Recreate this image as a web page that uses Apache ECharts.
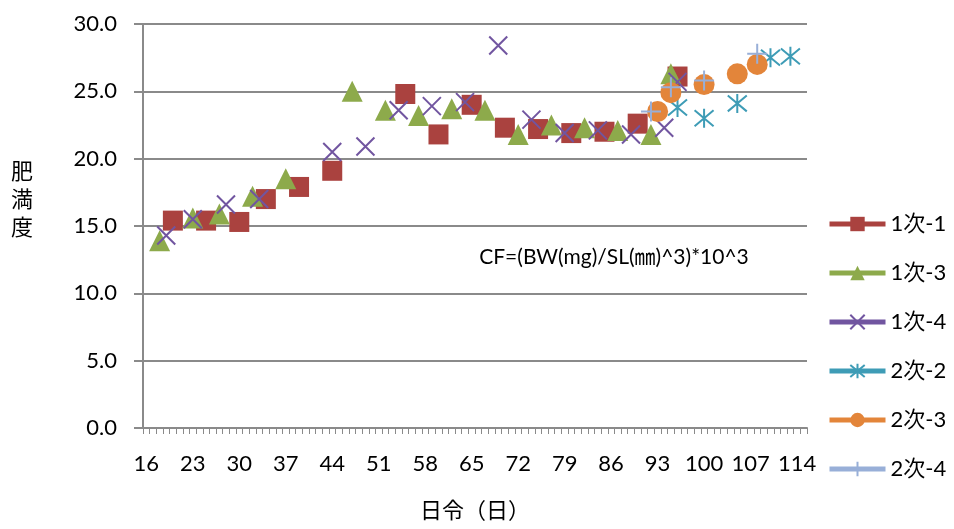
<!DOCTYPE html>
<html>
<head>
<meta charset="utf-8">
<script src="https://cdn.jsdelivr.net/npm/echarts@6/dist/echarts.min.js"></script>
<style>
  html, body { margin: 0; padding: 0; background: #fff; }
  #chart { width: 954px; height: 529px; }
</style>
</head>
<body>
<div id="chart"></div>
<script>
// 日令 16..115
var days = [];
for (var d = 16; d <= 115; d++) days.push(String(d));

// [日令, 肥満度]
var s1_1 = [[20,15.4],[25,15.4],[30,15.3],[34,17.0],[39,17.9],[44,19.1],[55,24.8],[60,21.8],
            [65,24.0],[70,22.3],[75,22.2],[80,21.9],[85,22.0],[90,22.6],[96,26.1]];
var s1_3 = [[18,13.9],[23,15.6],[27,15.9],[32,17.2],[37,18.5],[47,25.0],[52,23.6],[57,23.2],
            [62,23.7],[67,23.6],[72,21.8],[77,22.5],[82,22.3],[87,22.1],[92,21.8],[95,26.3]];
var s1_4 = [[19,14.3],[23,15.5],[28,16.6],[33,17.0],[44,20.5],[49,20.9],[54,23.6],[59,23.9],
            [64,24.2],[69,28.4],[74,22.9],[79,21.9],[84,22.1],[89,21.8],[94,22.3],[96,25.7]];
var s2_2 = [[96,23.8],[100,23.0],[105,24.1],[110,27.5],[113,27.6]];
var s2_3 = [[93,23.5],[95,24.9],[100,25.5],[105,26.3],[108,27.0]];
var s2_4 = [[92,23.5],[95,25.3],[100,25.8],[108,27.8]];

var yTicks = [0, 5, 10, 15, 20, 25, 30];

var font = 'Lato, "Noto Sans CJK JP"';

function fill(pairs) {
    var arr = days.map(function(){ return null; });
    pairs.forEach(function(p){ arr[p[0] - 16] = p[1]; });
    return arr;
}

var xMark = 'path://M0,0L10,10M10,0L0,10';
var starMark = 'path://M0,0L10,10M10,0L0,10M5,-1L5,11';
var plusMark = 'path://M5,0L5,10M0,5L10,5';

function ser(name, pairs, color, symbol, size, stroke) {
    return {
        name: name,
        type: 'line',
        data: fill(pairs),
        connectNulls: false,
        showSymbol: true,
        showAllSymbol: true,
        symbol: symbol,
        symbolSize: size,
        lineStyle: { color: color, width: 5 },
        itemStyle: stroke
            ? { color: 'rgba(0,0,0,0)', borderColor: color, borderWidth: 2 }
            : { color: color, borderColor: color, borderWidth: 0 },
        emphasis: { disabled: true },
        z: 2
    };
}

var option = {
    animation: false,
    textStyle: { fontFamily: font },
    grid: { left: 143, right: 147, top: 24, bottom: 101 },
    legend: {
        orient: 'vertical',
        left: 822,
        top: 208,
        itemWidth: 56,
        itemHeight: 18,
        itemGap: 27,
        lineStyle: { width: 5 },
        textStyle: { fontSize: 22, color: '#000', fontFamily: font },
        data: ['1次-1', '1次-3', '1次-4', '2次-2', '2次-3', '2次-4']
    },
    xAxis: {
        type: 'category',
        data: days,
        boundaryGap: true,
        axisLine: { lineStyle: { color: '#8a8a8a', width: 2 } },
        axisTick: { show: true, interval: 0, length: 6, lineStyle: { color: '#8a8a8a', width: 1 } },
        axisLabel: { interval: 6, fontSize: 22, color: '#000', margin: 25, fontFamily: font }
    },
    yAxis: {
        type: 'value',
        min: 0,
        max: 30,
        interval: 5,
        axisLine: { show: true, lineStyle: { color: '#8a8a8a', width: 2 } },
        axisTick: { show: true, length: 9, lineStyle: { color: '#8a8a8a', width: 2 } },
        splitLine: { lineStyle: { color: '#8a8a8a', width: 2 } },
        axisLabel: {
            fontSize: 22, color: '#000', margin: 26, fontFamily: font,
            formatter: function(v){ return yTicks.indexOf(v) >= 0 ? v.toFixed(1) : ''; }
        }
    },
    graphic: [
        { type: 'text', left: 11, top: 158,
          style: { text: '肥\n満\n度', fontSize: 22, lineHeight: 28, fill: '#000', fontFamily: font } },
        { type: 'text', x: 475, y: 511,
          style: { text: '日令（日）', fontSize: 22, fill: '#000', fontFamily: font, align: 'center', verticalAlign: 'middle' } },
        { type: 'text', x: 614, y: 257,
          style: { text: 'CF=(BW(mg)/SL(㎜)^3)*10^3', fontSize: 21, fill: '#000', fontFamily: font, align: 'center', verticalAlign: 'middle' } }
    ],
    series: [
        ser('1次-1', s1_1, '#AA423F', 'rect', 20, false),
        ser('1次-3', s1_3, '#8DAA4B', 'triangle', 21, false),
        ser('1次-4', s1_4, '#7155A0', xMark, 18, true),
        ser('2次-2', s2_2, '#3E9CB6', starMark, 19, true),
        ser('2次-3', s2_3, '#E3853A', 'circle', 21, false),
        ser('2次-4', s2_4, '#98AFD8', plusMark, 20, true)
    ]
};

echarts.init(document.getElementById('chart')).setOption(option);
</script>
</body>
</html>
